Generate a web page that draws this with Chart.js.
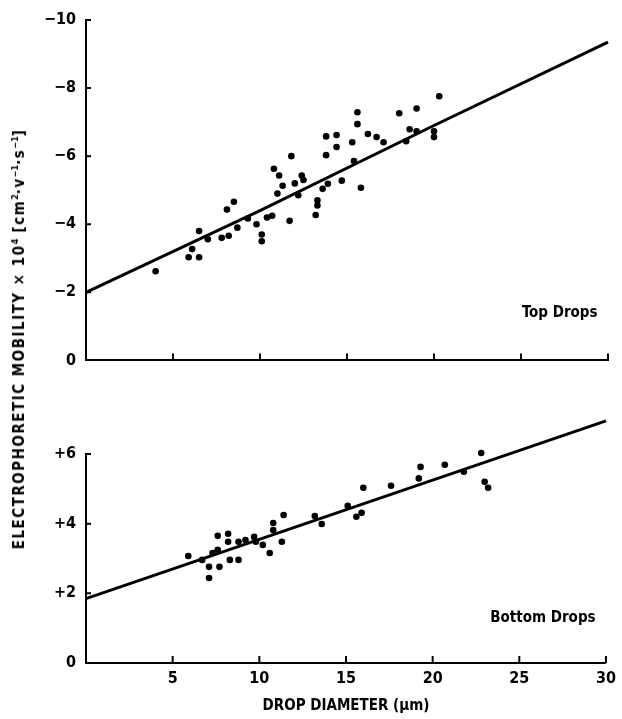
<!DOCTYPE html>
<html>
<head>
<meta charset="utf-8">
<script src="https://cdn.jsdelivr.net/npm/chart.js@4"></script>
<style>
  body { margin: 0; background: #fff; }
  #wrap { position: relative; width: 622px; height: 719px; }
  .box { position: absolute; left: 0; width: 622px; }
  #topBox { top: 0; height: 380px; }
  #bottomBox { top: 380px; height: 339px; }
  #yTitle {
    position: absolute; left: 19px; top: 339px;
    transform: translate(-50%, -50%) rotate(-90deg);
    white-space: nowrap; letter-spacing: 1.5px;
    font: bold 15px "DejaVu Sans Condensed", "DejaVu Sans", sans-serif;
  }
  #yTitle sup { font-size: 9px; letter-spacing: 0; }
</style>
</head>
<body>
<div id="wrap">
  <div class="box" id="topBox"><canvas id="topCanvas"></canvas></div>
  <div class="box" id="bottomBox"><canvas id="bottomCanvas"></canvas></div>
  <div id="yTitle">ELECTROPHORETIC MOBILITY &times; 10<sup>4</sup> [cm<sup>2</sup>&middot;v<sup>&minus;1</sup>&middot;s<sup>&minus;1</sup>]</div>
</div>
<script>
// top drops (negative mobility)
var topDiameter = [4.0, 5.9, 6.5, 6.1, 6.5, 7.0, 7.8, 8.2, 8.1, 8.5, 8.7, 9.3, 9.8, 10.1, 10.1, 10.4, 10.7,
  11.7, 11.0, 10.8, 11.1, 11.3, 11.8, 12.0, 12.2, 12.4, 12.5, 13.2, 13.3, 13.3, 13.6, 13.9, 14.7, 15.8,
  13.8, 13.8, 14.4, 14.4, 15.3, 15.6, 15.6, 15.4, 16.2, 16.7, 17.1, 18.0, 18.4, 18.6, 19.0, 19.0,
  20.0, 20.0, 20.3];
var topMobility = [-2.62, -3.03, -3.03, -3.27, -3.8, -3.56, -3.6, -3.66, -4.43, -4.66, -3.9, -4.17, -4.0, -3.5, -3.7, -4.2, -4.25,
  -4.1, -4.9, -5.63, -5.43, -5.13, -6.0, -5.2, -4.85, -5.43, -5.3, -4.27, -4.7, -4.55, -5.04, -5.19, -5.28, -5.07,
  -6.03, -6.58, -6.62, -6.27, -6.41, -6.94, -7.29, -5.86, -6.65, -6.56, -6.41, -7.26, -6.44, -6.79, -7.4, -6.73,
  -6.73, -6.56, -7.76];
var topFitX = [0, 10, 20, 30];
var topFitY = [-2.0, -4.4, -6.9, -9.35];
var topTicks = [0, -2, -4, -6, -8, -10];

// bottom drops (positive mobility)
var bottomDiameter = [5.9, 6.7, 7.1, 7.1, 7.3, 7.6, 7.7, 8.2, 8.2, 7.6, 8.3, 8.8, 8.8, 9.2, 9.7, 9.8, 10.2, 10.6,
  10.8, 10.8, 11.3, 11.4, 13.2, 13.6, 15.1, 15.6, 15.9, 16.0, 17.6, 19.2, 19.3, 20.7, 21.8, 22.8, 23.0, 23.2];
var bottomMobility = [3.07, 2.96, 2.76, 2.44, 3.16, 3.25, 2.76, 3.71, 3.48, 3.65, 2.96, 2.96, 3.48, 3.53, 3.62, 3.48, 3.39, 3.16,
  4.02, 3.82, 3.48, 4.25, 4.22, 3.99, 4.51, 4.2, 4.31, 5.03, 5.09, 5.3, 5.63, 5.69, 5.49, 6.03, 5.2, 5.03];
var bottomFitX = [0, 30];
var bottomFitY = [1.85, 6.95];
var bottomTicks = [0, 2, 4, 6];

var xTicks = [0, 5, 10, 15, 20, 25, 30];

var FONT = '"DejaVu Sans Condensed", "DejaVu Sans", sans-serif';

function toPoints(xs, ys) {
  var pts = [];
  for (var i = 0; i < xs.length; i++) pts.push({ x: xs[i], y: ys[i] });
  return pts;
}

// small inward tick marks + panel caption
var innerTicks = {
  id: 'innerTicks',
  afterDraw: function(chart, args, opts) {
    var ctx = chart.ctx, x = chart.scales.x, y = chart.scales.y;
    ctx.save();
    ctx.strokeStyle = '#000';
    ctx.lineWidth = 2;
    ctx.beginPath();
    x.ticks.forEach(function(t) {
      if (t.value === 0) return;
      var px = x.getPixelForValue(t.value);
      ctx.moveTo(px, y.bottom);
      ctx.lineTo(px, y.bottom - 7);
    });
    y.ticks.forEach(function(t) {
      if (t.value === 0) return;
      var py = y.getPixelForValue(t.value);
      ctx.moveTo(x.left, py);
      ctx.lineTo(x.left + 5, py);
    });
    ctx.stroke();
    ctx.fillStyle = '#000';
    ctx.font = 'bold 15px ' + FONT;
    ctx.textAlign = 'right';
    ctx.textBaseline = 'middle';
    ctx.fillText(opts.label, x.getPixelForValue(opts.atX), y.getPixelForValue(opts.atY));
    ctx.restore();
  }
};

function makeChart(canvasId, pts, fit, yOpts, xOpts, padTop, xHeight, caption) {
  return new Chart(document.getElementById(canvasId), {
    type: 'scatter',
    data: {
      datasets: [
        {
          data: fit,
          showLine: true,
          borderColor: '#000',
          borderWidth: 3,
          pointRadius: 0,
          clip: false
        },
        {
          data: pts,
          backgroundColor: '#000',
          borderColor: '#000',
          pointRadius: 3.3,
          pointBorderWidth: 0,
          clip: false
        }
      ]
    },
    options: {
      responsive: true,
      maintainAspectRatio: false,
      animation: false,
      layout: { padding: { top: padTop, right: 14, left: 0, bottom: 0 } },
      plugins: {
        legend: { display: false },
        tooltip: { enabled: false },
        innerTicks: caption
      },
      scales: {
        x: Object.assign({
          type: 'linear',
          min: 0,
          max: 30,
          grid: { display: false, drawTicks: false },
          border: { display: true, color: '#000', width: 2 },
          afterBuildTicks: function(s) { s.ticks = xTicks.map(function(v) { return { value: v }; }); },
          afterFit: function(s) { s.height = xHeight; }
        }, xOpts),
        y: Object.assign({
          grid: { display: false, drawTicks: false },
          border: { display: true, color: '#000', width: 2 },
          afterFit: function(s) { s.width = 86; }
        }, yOpts)
      }
    },
    plugins: [innerTicks]
  });
}

makeChart('topCanvas',
  toPoints(topDiameter, topMobility),
  toPoints(topFitX, topFitY),
  {
    min: -10, max: 0, reverse: true,
    afterBuildTicks: function(s) { s.ticks = topTicks.map(function(v) { return { value: v }; }); },
    ticks: {
      padding: 10, color: '#000', font: { family: FONT, size: 16, weight: 'bold' },
      callback: function(v) { return v === 0 ? '0' : '\u2212' + Math.abs(v); }
    }
  },
  { ticks: { display: false } },
  20, 17,
  { label: 'Top Drops', atX: 29.4, atY: -1.4 }
);

makeChart('bottomCanvas',
  toPoints(bottomDiameter, bottomMobility),
  toPoints(bottomFitX, bottomFitY),
  {
    min: 0, max: 6,
    afterBuildTicks: function(s) { s.ticks = bottomTicks.map(function(v) { return { value: v }; }); },
    ticks: {
      padding: 10, color: '#000', font: { family: FONT, size: 16, weight: 'bold' },
      callback: function(v) { return v === 0 ? '0' : '+' + v; }
    }
  },
  {
    ticks: {
      padding: 6, color: '#000', font: { family: FONT, size: 16, weight: 'bold' },
      callback: function(v) { return v === 0 ? '' : v; }
    },
    title: {
      display: true, text: 'DROP DIAMETER (\u00b5m)', color: '#000',
      font: { family: FONT, size: 15, weight: 'bold' }, padding: { top: 0, bottom: 4 }
    }
  },
  74, 56,
  { label: 'Bottom Drops', atX: 29.4, atY: 1.3 }
);
</script>
</body>
</html>
